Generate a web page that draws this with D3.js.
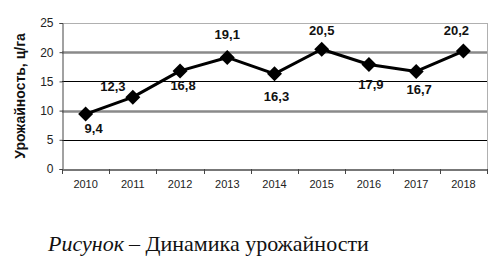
<!DOCTYPE html>
<html><head><meta charset="utf-8">
<script src="https://cdn.jsdelivr.net/npm/d3@7"></script>
</head><body style="margin:0;background:#fff">
<script>
const years = ["2010","2011","2012","2013","2014","2015","2016","2017","2018"];
const yields = [9.4, 12.3, 16.8, 19.1, 16.3, 20.5, 17.9, 16.7, 20.2];
const labels = ["9,4","12,3","16,8","19,1","16,3","20,5","17,9","16,7","20,2"];
const yTicks = [0, 5, 10, 15, 20, 25];
const yTitle = "Урожайность, ц/га";
const captionItalic = "Рисунок";
const captionRest = "– Динамика урожайности";
// label placement (offsets in px relative to point)
const labelDx = [8, -20, 3, 0, 2, 0, 2, 3, -7];
const labelDy = [19, -6, 19, -18, 27, -14, 25, 23, -16];

const SANS = '"Liberation Sans", Arimo, Arial, sans-serif';
const SERIF = '"Liberation Serif", Tinos, "Times New Roman", "DejaVu Serif", serif';
const W = 496, H = 258;
const m = {l: 62, r: 9, t: 23, b: 89};
const svg = d3.select("body").append("svg").attr("width", W).attr("height", H).style("display", "block");
const x = d3.scaleBand().domain(years).range([m.l, W - m.r]);
const y = d3.scaleLinear().domain([0, 25]).range([H - m.b, m.t]);

const gridStyle = {5: ["#000", 1], 10: ["#8a8a8a", 2.5], 15: ["#000", 1], 20: ["#8a8a8a", 2.5], 25: ["#b0b0b0", 1]};
svg.append("g").selectAll("line").data(yTicks.filter(d => d > 0)).join("line")
  .attr("x1", m.l).attr("x2", W - m.r)
  .attr("y1", d => Math.round(y(d)) + 0.5).attr("y2", d => Math.round(y(d)) + 0.5)
  .attr("stroke", d => gridStyle[d][0]).attr("stroke-width", d => gridStyle[d][1]);
svg.append("line").attr("x1", W - m.r + 0.5).attr("x2", W - m.r + 0.5)
  .attr("y1", y(25)).attr("y2", y(0)).attr("stroke", "#b0b0b0");

const yAxis = svg.append("g").attr("transform", `translate(${m.l + 0.5},0)`)
  .call(d3.axisLeft(y).tickValues(yTicks).tickSize(3).tickPadding(6));
yAxis.select(".domain").attr("stroke", "#444");
yAxis.selectAll(".tick line").attr("stroke", "#444");
yAxis.selectAll("text").attr("font-family", SANS).style("font-family", SANS).style("font-size", "12px").attr("fill", "#222");

const xAxis = svg.append("g").attr("transform", `translate(0,${Math.round(y(0)) + 0.5})`)
  .call(d3.axisBottom(x).tickSize(0).tickPadding(11));
xAxis.select(".domain").attr("stroke", "#777").attr("stroke-width", 2);
xAxis.selectAll("text").attr("font-family", SANS).style("font-family", SANS).style("font-size", "11px").attr("fill", "#222");
const bounds = years.map(d => x(d)).concat([x(years[years.length - 1]) + x.bandwidth()]);
svg.append("g").selectAll("line").data(bounds).join("line")
  .attr("x1", d => Math.round(d) + 0.5).attr("x2", d => Math.round(d) + 0.5)
  .attr("y1", y(0)).attr("y2", y(0) + 5).attr("stroke", "#444");

const cx = d => x(d) + x.bandwidth() / 2;
svg.append("path").datum(yields)
  .attr("d", d3.line().x((d, i) => cx(years[i])).y(d => y(d)))
  .attr("fill", "none").attr("stroke", "#000").attr("stroke-width", 3).attr("stroke-linejoin", "round");
svg.append("g").selectAll("path").data(yields).join("path")
  .attr("transform", (d, i) => `translate(${cx(years[i])},${y(d)})`)
  .attr("d", "M0,-7.5L7.5,0L0,7.5L-7.5,0Z").attr("fill", "#000");

svg.append("g").selectAll("text").data(yields).join("text")
  .attr("x", (d, i) => cx(years[i]) + labelDx[i])
  .attr("y", (d, i) => y(d) + labelDy[i])
  .attr("text-anchor", "middle")
  .attr("font-family", SANS).style("font-family", SANS).style("font-weight", "bold").style("font-size", "13px")
  .attr("fill", "#111")
  .text((d, i) => labels[i]);

svg.append("text").attr("transform", `translate(25,${(y(0) + y(25)) / 2}) rotate(-90)`)
  .attr("text-anchor", "middle")
  .attr("font-family", SANS).style("font-family", SANS).style("font-weight", "bold").style("font-size", "14px")
  .attr("fill", "#111").text(yTitle);

const c1 = svg.append("text").attr("x", 48).attr("y", 251)
  .attr("font-family", SERIF).style("font-family", SERIF).style("font-size", "22px").style("font-style", "italic")
  .attr("fill", "#111").text(captionItalic);
const w1 = c1.node().getComputedTextLength();
svg.append("text").attr("x", 48 + w1 + 5).attr("y", 251)
  .attr("font-family", SERIF).style("font-family", SERIF).style("font-size", "22px")
  .attr("fill", "#111").text(captionRest);
</script>
</body></html>
